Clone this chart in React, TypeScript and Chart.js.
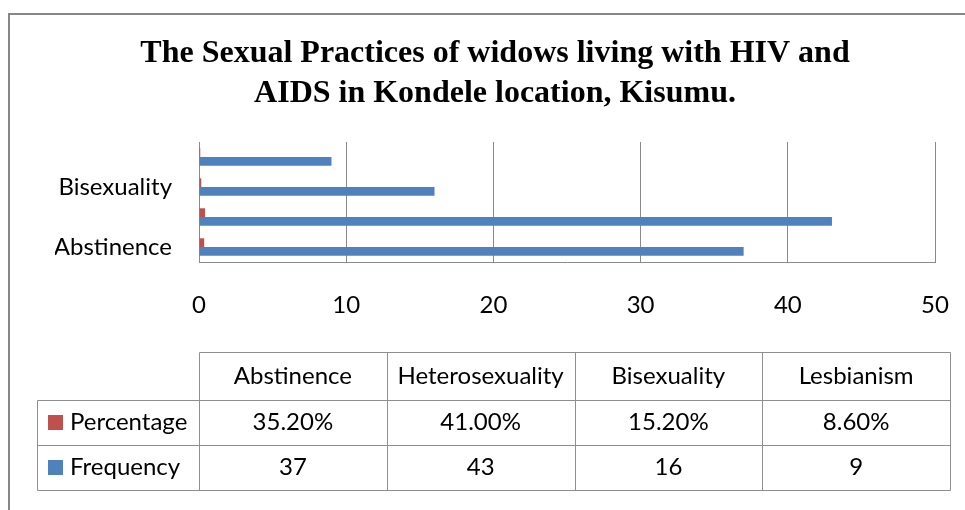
import React, { useEffect, useRef } from "react";
import { Chart, registerables } from "chart.js";

Chart.register(...registerables);

const categories = ["Abstinence", "Heterosexuality", "Bisexuality", "Lesbianism"];
const percentage = [0.352, 0.41, 0.152, 0.086];
const frequency = [37, 43, 16, 9];
const xTicks = [0, 10, 20, 30, 40, 50];
const seriesNames = ["Percentage", "Frequency"];
const titleLines = [
  "The Sexual Practices of widows living with HIV and",
  "AIDS in Kondele location, Kisumu.",
];

const RED = "#C0504D";
const BLUE = "#4F81BD";
const GRID = "#8a8a8a";
const SANS = "Lato, 'Open Sans', sans-serif";

const framePlugin = {
  id: "frame",
  beforeDraw(chart: any) {
    const ctx = chart.ctx;
    ctx.save();
    ctx.fillStyle = "#ffffff";
    ctx.fillRect(0, 0, chart.width, chart.height);
    ctx.strokeStyle = "#878787";
    ctx.lineWidth = 2;
    ctx.beginPath();
    ctx.moveTo(9, chart.height + 5);
    ctx.lineTo(9, 14);
    ctx.lineTo(chart.width + 5, 14);
    ctx.stroke();
    ctx.restore();
  },
};

const tablePlugin = {
  id: "dataTable",
  afterDraw(chart: any) {
    const ctx = chart.ctx;
    const left = 37;
    const colStart = 199;
    const colEnd = 950;
    const rowY = [352, 400, 445, 490];
    const n = categories.length;
    const cw = (colEnd - colStart) / n;
    ctx.save();
    ctx.strokeStyle = "#8f8f8f";
    ctx.lineWidth = 1;
    const line = (x1: number, y1: number, x2: number, y2: number) => {
      ctx.beginPath();
      ctx.moveTo(Math.round(x1) + 0.5, Math.round(y1) + 0.5);
      ctx.lineTo(Math.round(x2) + 0.5, Math.round(y2) + 0.5);
      ctx.stroke();
    };
    line(colStart, rowY[0], colEnd, rowY[0]);
    for (let r = 1; r < rowY.length; r++) line(left, rowY[r], colEnd, rowY[r]);
    line(left, rowY[1], left, rowY[3]);
    for (let c = 0; c <= n; c++) {
      const x = colStart + c * cw;
      line(x, rowY[0], x, rowY[3]);
    }
    ctx.fillStyle = "#000000";
    ctx.font = `24px ${SANS}`;
    ctx.textBaseline = "middle";
    ctx.textAlign = "center";
    const rowValues = [
      categories,
      percentage.map((v) => (v * 100).toFixed(2) + "%"),
      frequency.map((v) => String(v)),
    ];
    for (let r = 0; r < 3; r++) {
      const cy = (rowY[r] + rowY[r + 1]) / 2;
      for (let c = 0; c < n; c++) {
        ctx.fillText(rowValues[r][c], colStart + c * cw + cw / 2, cy);
      }
    }
    const colors = [RED, BLUE];
    for (let s = 0; s < 2; s++) {
      const cy = (rowY[s + 1] + rowY[s + 2]) / 2;
      ctx.fillStyle = colors[s];
      ctx.fillRect(48, cy - 7.5, 15, 15);
      ctx.fillStyle = "#000000";
      ctx.textAlign = "left";
      ctx.fillText(seriesNames[s], 70, cy);
    }
    ctx.restore();
  },
};

export default function App() {
  const ref = useRef<HTMLCanvasElement | null>(null);
  useEffect(() => {
    if (!ref.current) return;
    const chart = new Chart(ref.current, {
      type: "bar",
      data: {
        labels: categories,
        datasets: [
          {
            label: seriesNames[0],
            data: percentage,
            backgroundColor: RED,
            borderWidth: 0,
            categoryPercentage: 0.58,
            barPercentage: 1,
          },
          {
            label: seriesNames[1],
            data: frequency,
            backgroundColor: BLUE,
            borderWidth: 0,
            categoryPercentage: 0.58,
            barPercentage: 1,
          },
        ],
      },
      options: {
        indexAxis: "y",
        animation: false,
        responsive: false,
        maintainAspectRatio: false,
        layout: { padding: { left: 55, right: 30, top: 0, bottom: 0 } },
        plugins: {
          legend: { display: false },
          tooltip: { enabled: false },
          title: {
            display: true,
            text: titleLines,
            color: "#000000",
            font: { family: "'Liberation Serif', 'Times New Roman', serif", size: 32, weight: "bold", lineHeight: 40 / 32 },
            padding: { top: 34, bottom: 28 },
          },
        },
        scales: {
          x: {
            type: "linear",
            min: 0,
            max: 50,
            afterBuildTicks: (scale: any) => {
              scale.ticks = xTicks.map((v) => ({ value: v }));
            },
            afterFit: (scale: any) => {
              scale.height = 248;
              scale.paddingLeft = 0;
              scale.paddingRight = 0;
            },
            grid: { color: GRID, lineWidth: 1, drawTicks: false },
            border: { display: true, color: GRID, width: 1 },
            ticks: {
              color: "#000000",
              font: { family: SANS, size: 24 },
              padding: 28.5,
              maxRotation: 0,
            },
          },
          y: {
            type: "category",
            reverse: true,
            afterFit: (scale: any) => {
              scale.width = 144;
              scale.paddingTop = 0;
              scale.paddingBottom = 0;
            },
            grid: { display: false, drawTicks: false },
            border: { display: true, color: GRID, width: 1 },
            ticks: {
              color: "#000000",
              font: { family: SANS, size: 24 },
              padding: 27,
              autoSkip: false,
              callback: (_v: any, i: number) => (i % 2 === 0 ? categories[i] : ""),
            },
          },
        },
      },
      plugins: [framePlugin, tablePlugin],
    } as any);
    return () => chart.destroy();
  }, []);
  return (
    <div style={{ position: "fixed", left: 0, top: 0, width: 965, height: 510, background: "#fff" }}>
      <canvas ref={ref} width={965} height={510} style={{ width: 965, height: 510, display: "block" }} />
    </div>
  );
}
